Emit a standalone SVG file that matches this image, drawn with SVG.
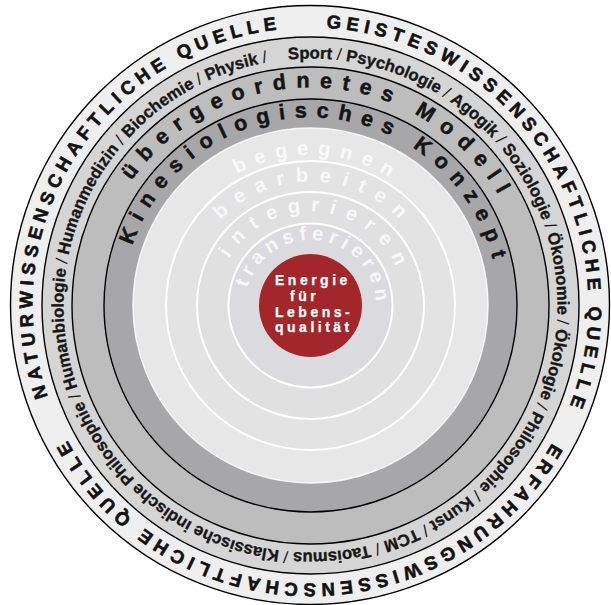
<svg xmlns="http://www.w3.org/2000/svg" width="611" height="605" viewBox="0 0 611 605">
<style>
.ring{stroke:#000;stroke-width:1.4}
.inner{stroke:#fff;stroke-width:2}
.src{font-family:"Liberation Sans",Arial,sans-serif;font-weight:bold;font-size:18.5px;letter-spacing:5.3px;fill:#111;stroke:#111;stroke-width:0.6}
.disc{font-family:"Liberation Sans",Arial,sans-serif;font-weight:bold;font-size:16.7px;fill:#161616;stroke:#161616;stroke-width:0.35}
.sl{font-weight:normal;stroke-width:0}
.model{font-family:"Liberation Sans",Arial,sans-serif;font-weight:bold;font-size:21.5px;fill:#141414;stroke:#141414;stroke-width:0.5}
.verb{font-family:"Liberation Sans",Arial,sans-serif;font-weight:bold;font-size:20px;fill:#fff;fill-opacity:0.78}
.core{font-family:"Liberation Sans",Arial,sans-serif;font-weight:bold;font-size:14px;letter-spacing:3.5px;fill:#fff;stroke:#fff;stroke-width:0.25}
</style>
<defs>
<path id="p278" d="M310.5,27.5 A278,278 0 1 1 310.5,583.5 A278,278 0 1 1 310.5,27.5 A278,278 0 1 1 310.5,583.5 A278,278 0 1 1 310.5,27.5"/>
<path id="p247" d="M310.5,58.5 A247,247 0 1 1 310.5,552.5 A247,247 0 1 1 310.5,58.5 A247,247 0 1 1 310.5,552.5 A247,247 0 1 1 310.5,58.5"/>
<path id="p218" d="M310.5,87.5 A218,218 0 1 1 310.5,523.5 A218,218 0 1 1 310.5,87.5 A218,218 0 1 1 310.5,523.5 A218,218 0 1 1 310.5,87.5"/>
<path id="p188" d="M310.5,117.5 A188,188 0 1 1 310.5,493.5 A188,188 0 1 1 310.5,117.5 A188,188 0 1 1 310.5,493.5 A188,188 0 1 1 310.5,117.5"/>
<path id="p150" d="M310.5,155 A150.5,150.5 0 1 1 310.5,456 A150.5,150.5 0 1 1 310.5,155 A150.5,150.5 0 1 1 310.5,456 A150.5,150.5 0 1 1 310.5,155"/>
<path id="p123" d="M310.5,181.7 A123.8,123.8 0 1 1 310.5,429.3 A123.8,123.8 0 1 1 310.5,181.7 A123.8,123.8 0 1 1 310.5,429.3 A123.8,123.8 0 1 1 310.5,181.7"/>
<path id="p94" d="M310.5,211.5 A94,94 0 1 1 310.5,399.5 A94,94 0 1 1 310.5,211.5 A94,94 0 1 1 310.5,399.5 A94,94 0 1 1 310.5,211.5"/>
<path id="p65" d="M310.5,240 A65.5,65.5 0 1 1 310.5,371 A65.5,65.5 0 1 1 310.5,240 A65.5,65.5 0 1 1 310.5,371 A65.5,65.5 0 1 1 310.5,240"/>
</defs>

<g id="rings">
<circle class="ring" cx="310" cy="305" r="299.5" fill="#efefef" stroke-width="1.6"/>
<circle class="ring" cx="310.5" cy="305.5" r="268.5" fill="#d5d5d5"/>
<circle class="ring" cx="310.5" cy="305.5" r="238.5" fill="#bdbdbd"/>
<circle class="ring" cx="310.5" cy="305.5" r="206.5" fill="#a7a7aa"/>
<circle cx="310.5" cy="305.5" r="177.5" fill="#e7e7e7" stroke="#fff" stroke-width="1.5" stroke-opacity="0.85"/>
<circle class="inner" cx="310.5" cy="305.5" r="144.5" fill="#e3e3e3"/>
<circle class="inner" cx="310.5" cy="305.5" r="113.5" fill="#e0e0e1"/>
<circle class="inner" cx="310.5" cy="305.5" r="82" fill="#dbdbdf"/>
</g>

<g id="sources">
<text class="src" text-anchor="middle"><textPath href="#p278" startOffset="1467">NATURWISSENSCHAFTLICHE QUELLE</textPath></text>
<text class="src" text-anchor="middle"><textPath href="#p278" startOffset="280">GEISTESWISSENSCHAFTLICHE QUELLE</textPath></text>
<text class="src" text-anchor="middle"><textPath href="#p278" startOffset="877">ERFAHRUNGSWISSENSCHAFTLICHE QUELLE</textPath></text>
</g>

<g id="disciplines">
<text class="disc"><textPath href="#p247" startOffset="1529">Sport<tspan class="sl"> / </tspan>Psychologie<tspan class="sl"> / </tspan>Agogik<tspan class="sl"> / </tspan>Soziologie<tspan class="sl"> / </tspan>Ökonomie<tspan class="sl"> / </tspan>Ökologie<tspan class="sl"> / </tspan>Philosophie<tspan class="sl"> / </tspan>Kunst<tspan class="sl"> / </tspan>TCM<tspan class="sl"> / </tspan>Taoismus<tspan class="sl"> / </tspan>Klassische indische Philosophie<tspan class="sl"> / </tspan>Humanbiologie<tspan class="sl"> / </tspan>Humanmedizin<tspan class="sl"> / </tspan>Biochemie<tspan class="sl"> / </tspan>Physik<tspan class="sl"> /</tspan></textPath></text>
</g>

<g id="model">
<text class="model" text-anchor="middle" letter-spacing="9.95"><textPath href="#p218" startOffset="1382.4">übergeordnetes Modell</textPath></text>
</g>
<g id="concept">
<text class="model" text-anchor="middle" letter-spacing="9.35"><textPath href="#p188" startOffset="1192.5">Kinesiologisches Konzept</textPath></text>
</g>

<g id="steps">
<text class="verb" text-anchor="middle" letter-spacing="9.3"><textPath href="#p150" startOffset="952.9">begegnen</textPath></text>
<text class="verb" text-anchor="middle" letter-spacing="10.9"><textPath href="#p123" startOffset="782.5">bearbeiten</textPath></text>
<text class="verb" text-anchor="middle" letter-spacing="10.2"><textPath href="#p94" startOffset="599.0">integrieren</textPath></text>
<text class="verb" text-anchor="middle" letter-spacing="5.1" font-size="19"><textPath href="#p65" startOffset="420.1">transferieren</textPath></text>
</g>

<g id="core">
<circle cx="310.5" cy="305.5" r="51.5" fill="#a3262b"/>
<text class="core" x="275" y="285">Energie</text>
<text class="core" x="290" y="300.7">für</text>
<text class="core" x="275" y="316.7">Lebens-</text>
<text class="core" x="275" y="331.7">qualität</text>
</g>
</svg>
